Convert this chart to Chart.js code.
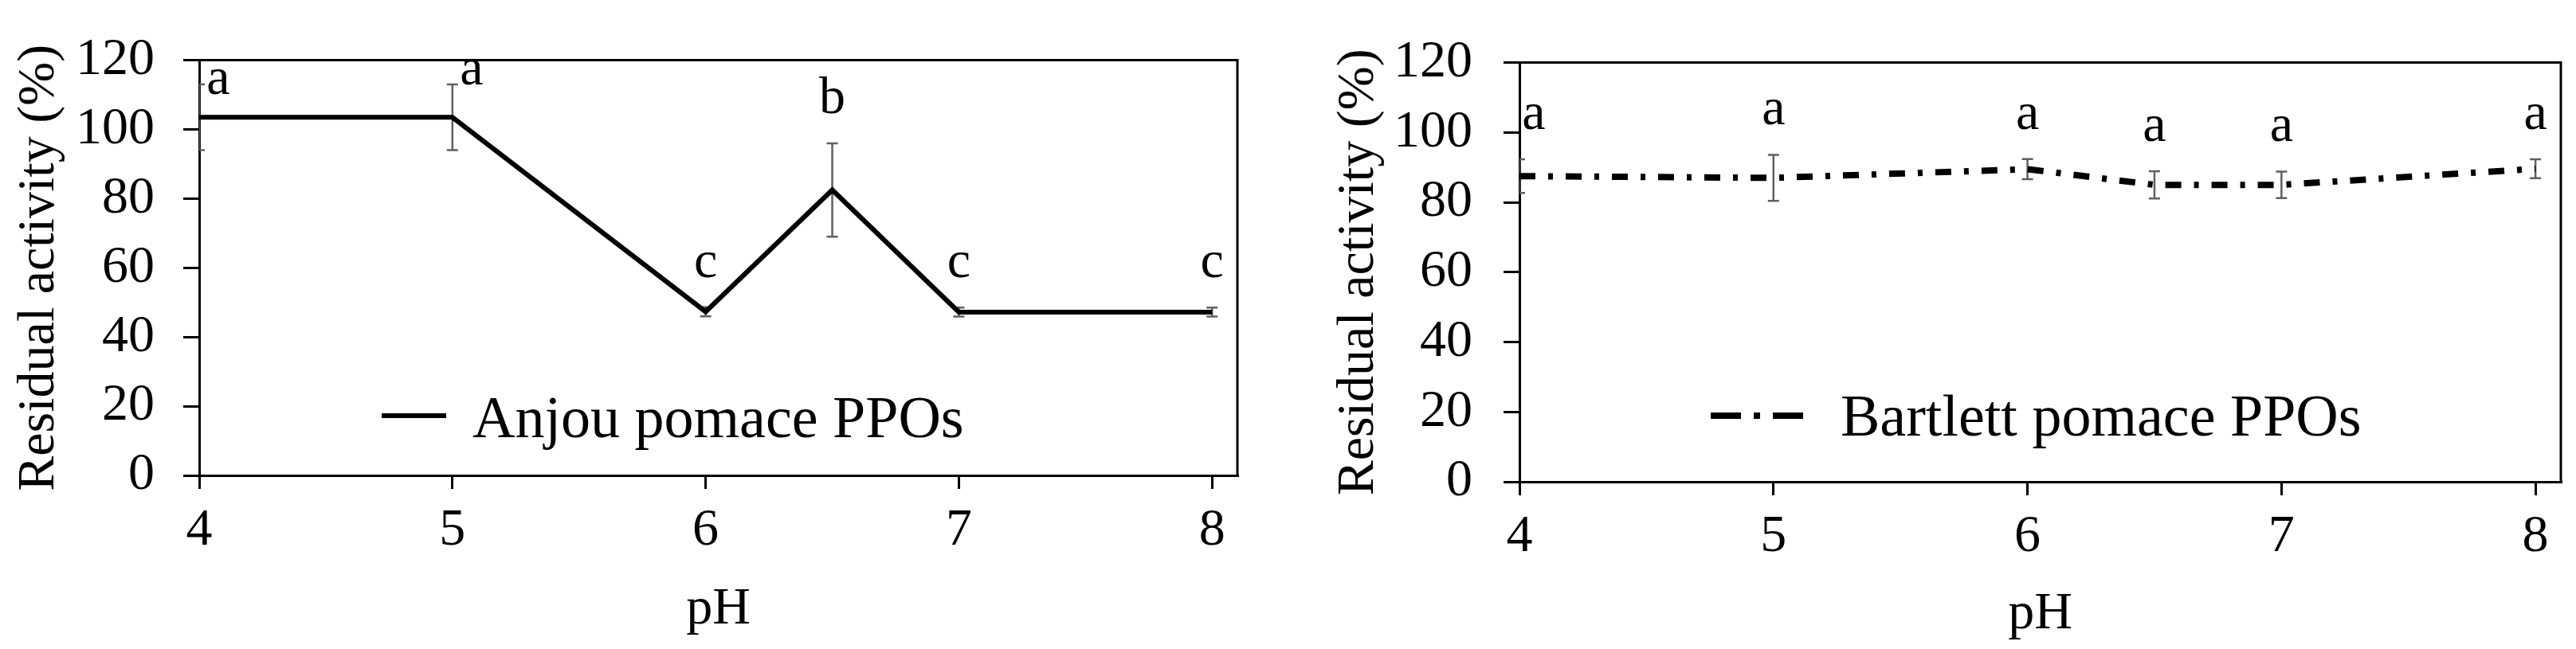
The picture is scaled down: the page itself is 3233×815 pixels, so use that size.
<!DOCTYPE html>
<html>
<head>
<meta charset="utf-8">
<script src="https://cdn.jsdelivr.net/npm/chart.js@4.4.1/dist/chart.umd.min.js"></script>
<style>
    html, body { margin: 0; padding: 0; background: #fff; }
    #wrap { position: relative; width: 3233px; height: 815px; }
    canvas { position: absolute; top: 0; }
    #anjou { left: 0; }
    #bartlett { left: 1600px; }
</style>
</head>
<body>
<div id="wrap">
    <canvas id="anjou" width="1600" height="815"></canvas>
    <canvas id="bartlett" width="1633" height="815"></canvas>
</div>
<script>
// pH values measured, shared by both panels
const phValues = [4, 5, 6, 6.5, 7, 8];
const xTickLabels = [4, 5, 6, 7, 8];

// Anjou pomace PPOs: residual activity (%) and SD
const anjouActivity = [103.5, 103.5, 47.3, 82.5, 47.2, 47.2];
const anjouError = [9.5, 9.5, 1.3, 13.5, 1.3, 1.3];
const anjouLetters = ['a', 'a', 'c', 'b', 'c', 'c'];

// Bartlett pomace PPOs
const bartlettActivity = [87.5, 87, 89.5, 85, 85, 89.6];
const bartlettError = [4.8, 6.6, 2.9, 3.9, 3.8, 2.7];
const bartlettLetters = ['a', 'a', 'a', 'a', 'a', 'a'];

const SERIF = '"Liberation Serif", "Times New Roman", serif';
Chart.defaults.color = '#000';
Chart.defaults.font.family = SERIF;

/** Top and right edges of the plot box. */
const framePlugin = {
    id: 'frame',
    afterDraw(chart) {
        const { ctx, chartArea: a } = chart;
        ctx.save();
        ctx.strokeStyle = '#000';
        ctx.lineWidth = 3;
        ctx.beginPath();
        ctx.moveTo(a.left, a.top);
        ctx.lineTo(a.right, a.top);
        ctx.lineTo(a.right, a.bottom);
        ctx.stroke();
        ctx.restore();
    }
};

/** Vertical SD bars with caps, clipped to the plot box. */
const errorBarPlugin = {
    id: 'errorBars',
    beforeDatasetsDraw(chart, args, opts) {
        const { ctx, chartArea: a, scales: { x, y } } = chart;
        const pts = chart.data.datasets[0].data;
        ctx.save();
        ctx.beginPath();
        ctx.rect(a.left, a.top, a.right - a.left, a.bottom - a.top);
        ctx.clip();
        ctx.strokeStyle = '#606060';
        ctx.lineWidth = 2.5;
        pts.forEach((pt, i) => {
            const px = x.getPixelForValue(pt.x);
            const top = y.getPixelForValue(pt.y + opts.errors[i]);
            const bot = y.getPixelForValue(pt.y - opts.errors[i]);
            ctx.beginPath();
            ctx.moveTo(px, top); ctx.lineTo(px, bot);
            ctx.moveTo(px - 7, top); ctx.lineTo(px + 7, top);
            ctx.moveTo(px - 7, bot); ctx.lineTo(px + 7, bot);
            ctx.stroke();
        });
        ctx.restore();
    }
};

/** Significance letters above each error bar. */
const letterPlugin = {
    id: 'letters',
    afterDatasetsDraw(chart, args, opts) {
        const { ctx, chartArea: a, scales: { x, y } } = chart;
        const pts = chart.data.datasets[0].data;
        ctx.save();
        ctx.font = '66px ' + SERIF;
        ctx.fillStyle = '#000';
        ctx.textAlign = 'center';
        ctx.textBaseline = 'alphabetic';
        pts.forEach((pt, i) => {
            let px = x.getPixelForValue(pt.x);
            const errTop = y.getPixelForValue(pt.y + opts.errors[i]);
            let base = errTop - 38;
            if (base - 32 < a.top + 8) {
                // no room above: set it beside the bar
                px += 24;
                base = errTop + (pt.x === x.min ? 12 : 0);
            }
            px = Math.max(a.left + 18, Math.min(a.right - 16, px));
            ctx.fillText(opts.letters[i], px, base);
        });
        ctx.restore();
    }
};

/** Legend drawn inside the plot box. */
const legendPlugin = {
    id: 'innerLegend',
    afterDraw(chart, args, opts) {
        const { ctx } = chart;
        const ds = chart.data.datasets[0];
        ctx.save();
        ctx.strokeStyle = '#000';
        ctx.lineWidth = ds.borderWidth;
        ctx.setLineDash(opts.dash);
        ctx.beginPath();
        ctx.moveTo(opts.x0, opts.lineY);
        ctx.lineTo(opts.x1, opts.lineY);
        ctx.stroke();
        ctx.setLineDash([]);
        ctx.font = '74px ' + SERIF;
        ctx.fillStyle = '#000';
        ctx.textBaseline = 'alphabetic';
        ctx.fillText(ds.label, opts.textX, opts.baseY);
        ctx.restore();
    }
};

/**
 * Builds one panel.
 */
function createPanel(canvasId, label, values, errors, letters, look) {
    const ctx = document.getElementById(canvasId).getContext('2d');
    return new Chart(ctx, {
        type: 'line',
        data: {
            datasets: [{
                label,
                data: phValues.map((ph, i) => ({ x: ph, y: values[i] })),
                borderColor: '#000',
                borderWidth: look.lineWidth,
                borderDash: look.dash,
                borderCapStyle: 'butt',
                borderJoinStyle: 'miter',
                pointRadius: 0,
                tension: 0,
                fill: false
            }]
        },
        options: {
            responsive: false,
            animation: false,
            layout: { padding: { left: 0, top: 46, right: look.padRight, bottom: 0 } },
            scales: {
                x: {
                    type: 'linear',
                    min: 4,
                    max: 8.1,
                    afterBuildTicks: (scale) => { scale.ticks = xTickLabels.map(v => ({ value: v })); },
                    afterFit: (scale) => { scale.height = look.xHeight; },
                    grid: { drawOnChartArea: false, color: '#000', lineWidth: 3, tickLength: 17 },
                    border: { color: '#000', width: 3 },
                    ticks: { font: { size: 66 }, padding: 13, maxRotation: 0 },
                    title: { display: true, text: 'pH', font: { size: 66 },
                        padding: { top: 0, bottom: look.xTitlePad } }
                },
                y: {
                    min: 0,
                    max: 120,
                    afterFit: (scale) => { scale.width = look.yWidth; },
                    grid: { drawOnChartArea: false, color: '#000', lineWidth: 3, tickLength: 20 },
                    border: { color: '#000', width: 3 },
                    ticks: { stepSize: 20, font: { size: 66 }, padding: look.yTickPad },
                    title: { display: true, text: 'Residual activity (%)', font: { size: 66 },
                        padding: { top: look.yTitlePad, bottom: 0 } }
                }
            },
            plugins: {
                legend: { display: false },
                tooltip: { enabled: false },
                errorBars: { errors },
                letters: { errors, letters },
                innerLegend: look.legend
            }
        },
        plugins: [framePlugin, errorBarPlugin, letterPlugin, legendPlugin]
    });
}

createPanel('anjou', 'Anjou pomace PPOs', anjouActivity, anjouError, anjouLetters, {
    lineWidth: 6, dash: [], padRight: 47, xHeight: 218, yWidth: 250,
    yTickPad: 36, xTitlePad: 10, yTitlePad: 10,
    legend: { x0: 479, x1: 560, lineY: 522, dash: [], textX: 593, baseY: 549 }
});

createPanel('bartlett', 'Bartlett pomace PPOs', bartlettActivity, bartlettError, bartlettLetters, {
    lineWidth: 8, dash: [20, 16, 6, 16], padRight: 19, xHeight: 210, yWidth: 307,
    yTickPad: 39, xTitlePad: 4, yTitlePad: 66,
    legend: { x0: 547, x1: 663, lineY: 522, dash: [38, 16, 8, 16], textX: 710, baseY: 547 }
});
</script>
</body>
</html>
